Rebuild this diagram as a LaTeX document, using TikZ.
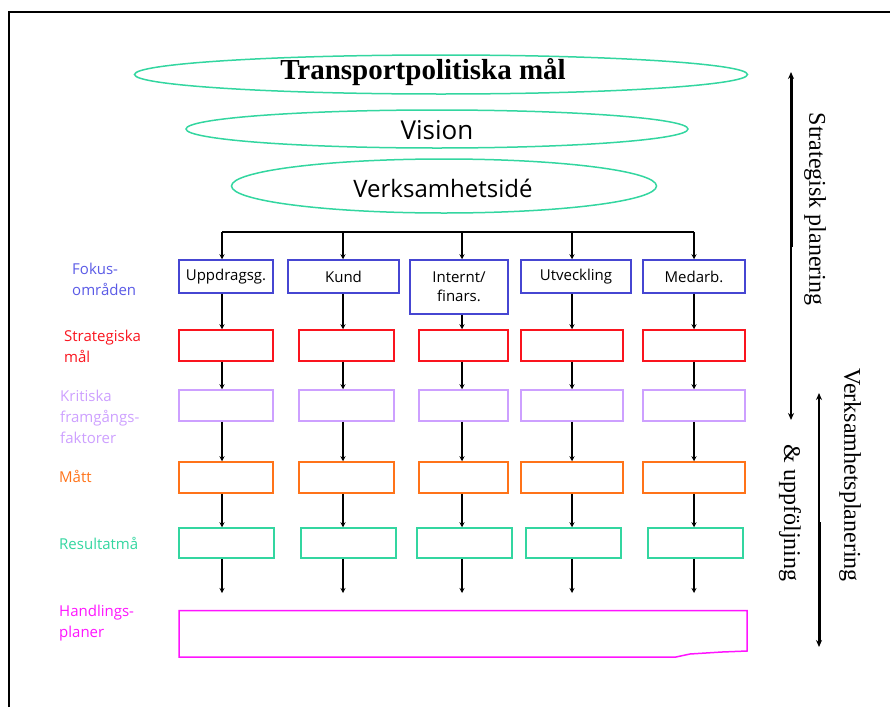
\documentclass[tikz,border=0pt]{standalone}
\usepackage{fontspec}
\setmainfont{Liberation Serif}
\newfontfamily\comic{Open Sans}
\usetikzlibrary{shapes.geometric,arrows.meta}
\definecolor{cteal}{RGB}{51,214,160}
\definecolor{cblue}{RGB}{70,70,210}
\definecolor{cblab}{RGB}{90,90,230}
\definecolor{cred}{RGB}{250,20,30}
\definecolor{clil}{RGB}{205,160,255}
\definecolor{corg}{RGB}{255,115,25}
\definecolor{cmag}{RGB}{255,20,255}
\begin{document}
\begin{tikzpicture}[x=1pt,y=-1pt,
  box/.style={draw, line width=1.5pt, rectangle, inner sep=0pt, font=\comic\fontsize{15}{19}\selectfont, align=center},
  ell/.style={draw=cteal, line width=1.5pt, ellipse, inner sep=0pt},
  arr/.style={line width=1.5pt, -{Stealth[length=5pt,width=5pt]}},
  lab/.style={anchor=base west, font=\comic\fontsize{15}{21}\selectfont, align=left, inner sep=0pt},
  side/.style={font=\fontsize{24}{28}\selectfont, rotate=-90, inner sep=0pt},
  sarr/.style={line width=1.5pt, {Stealth[length=7pt,width=6pt]}-{Stealth[length=7pt,width=6pt]}}
]
\useasboundingbox (0,0) rectangle (890,707);
% frame
\draw[line width=2pt] (9,707) -- (9,12) -- (890,12);

% ellipses
\node[ell, minimum width=613pt, minimum height=39pt] (e1) at (441,74.5) {};
\node[font=\bfseries\fontsize{29}{32}\selectfont] (t1) at (423,72) {Transportpolitiska mål};
\node[ell, minimum width=502pt, minimum height=38pt] (e2) at (437,129) {};
\node[font=\comic\fontsize{26}{30}\selectfont] (t2) at (437,130) {Vision};
\node[ell, minimum width=425pt, minimum height=54pt] (e3) at (444,186) {};
\node[font=\comic\fontsize{24}{28}\selectfont] (t3) at (443,188) {Verksamhetsidé};

% columns on the bus line
\coordinate (c1) at (222,232);
\coordinate (c2) at (343,232);
\coordinate (c3) at (462,232);
\coordinate (c4) at (572,232);
\coordinate (c5) at (694,232);
\draw[line width=1.5pt] (c1) -- (c5);

% row 1: focus areas
\node[box, draw=cblue, minimum width=94pt, minimum height=33pt] (f1) at (226,276.5) {Uppdragsg.};
\node[box, draw=cblue, minimum width=111pt, minimum height=33pt] (f2) at (343.5,276.5) {Kund};
\node[box, draw=cblue, minimum width=98pt, minimum height=54pt] (f3) at (459,287) {Internt/\\finars.};
\node[box, draw=cblue, minimum width=110pt, minimum height=33pt] (f4) at (576,276.5) {Utveckling};
\node[box, draw=cblue, minimum width=102pt, minimum height=33pt] (f5) at (694,276.5) {Medarb.};

% row 2: strategic goals
\node[box, draw=cred, minimum width=94pt, minimum height=31pt] (s1) at (226,345.5) {};
\node[box, draw=cred, minimum width=95pt, minimum height=31pt] (s2) at (346.5,345.5) {};
\node[box, draw=cred, minimum width=89pt, minimum height=31pt] (s3) at (463.5,345.5) {};
\node[box, draw=cred, minimum width=102pt, minimum height=31pt] (s4) at (572,345.5) {};
\node[box, draw=cred, minimum width=102pt, minimum height=31pt] (s5) at (694,345.5) {};

% row 3: critical success factors
\node[box, draw=clil, minimum width=94pt, minimum height=31pt] (k1) at (226,405.5) {};
\node[box, draw=clil, minimum width=95pt, minimum height=31pt] (k2) at (346.5,405.5) {};
\node[box, draw=clil, minimum width=89pt, minimum height=31pt] (k3) at (463.5,405.5) {};
\node[box, draw=clil, minimum width=102pt, minimum height=31pt] (k4) at (572,405.5) {};
\node[box, draw=clil, minimum width=102pt, minimum height=31pt] (k5) at (694,405.5) {};

% row 4: measures
\node[box, draw=corg, minimum width=94pt, minimum height=31pt] (m1) at (226,477.5) {};
\node[box, draw=corg, minimum width=95pt, minimum height=31pt] (m2) at (346.5,477.5) {};
\node[box, draw=corg, minimum width=89pt, minimum height=31pt] (m3) at (463.5,477.5) {};
\node[box, draw=corg, minimum width=102pt, minimum height=31pt] (m4) at (572,477.5) {};
\node[box, draw=corg, minimum width=102pt, minimum height=31pt] (m5) at (694,477.5) {};

% row 5: result goals
\node[box, draw=cteal, minimum width=95pt, minimum height=30pt] (r1) at (226.5,543) {};
\node[box, draw=cteal, minimum width=95pt, minimum height=30pt] (r2) at (348.5,543) {};
\node[box, draw=cteal, minimum width=95pt, minimum height=30pt] (r3) at (464.5,543) {};
\node[box, draw=cteal, minimum width=95pt, minimum height=30pt] (r4) at (573.5,543) {};
\node[box, draw=cteal, minimum width=95pt, minimum height=30pt] (r5) at (695.5,543) {};

% action plans
\coordinate (hend) at (0,593);
\draw[draw=cmag, line width=1.5pt] (179,610.5) -- (747,610.5) -- (747,651) -- (722,652) -- (690,654) -- (676,657) -- (179,657) -- cycle;

% connectors
\foreach \c/\a/\b/\d/\e/\f in {c1/f1/s1/k1/m1/r1, c2/f2/s2/k2/m2/r2, c3/f3/s3/k3/m3/r3, c4/f4/s4/k4/m4/r4, c5/f5/s5/k5/m5/r5}{
  \draw[arr] (\c) -- (\c |- \a.north);
  \draw[arr] (\c |- \a.south) -- (\c |- \b.north);
  \draw[arr] (\c |- \b.south) -- (\c |- \d.north);
  \draw[arr] (\c |- \d.south) -- (\c |- \e.north);
  \draw[arr] (\c |- \e.south) -- (\c |- \f.north);
  \draw[arr] (\c |- \f.south) -- (\c |- hend);
}

% left labels (anchor at baseline of last line)
\node[lab, text=cblab] (l1) at (72,295) {Fokus-\\områden};
\node[lab, text=cred] (l2) at (64,362) {Strategiska\\mål};
\node[lab, text=clil] (l3) at (60,443) {Kritiska\\framgångs-\\faktorer};
\node[lab, text=corg] (l4) at (59,482) {Mått};
\node[lab, text=cteal] (l5) at (59,549) {Resultatmå};
\node[lab, text=cmag] (l6) at (59,637) {Handlings-\\planer};

% right side arrows and labels
\coordinate (aT) at (791,72);
\coordinate (aM) at (791,247);
\coordinate (aB) at (791,420);
\draw[sarr] (aT) -- (aB);
\draw[line width=3pt] ([yshift=-5pt]aT) -- (aM);
\coordinate (bT) at (819,393);
\coordinate (bM) at (819,522);
\coordinate (bB) at (819,647);
\draw[sarr] (bT) -- (bB);
\draw[line width=3pt] (bM) -- ([yshift=5pt]bB);
\node[side] (sp) at (815,209) {Strategisk planering};
\node[side] (vp) at (850,475) {Verksamhetsplanering};
\node[side] (up) at (790,513) {\& uppföljning};
\end{tikzpicture}
\end{document}
